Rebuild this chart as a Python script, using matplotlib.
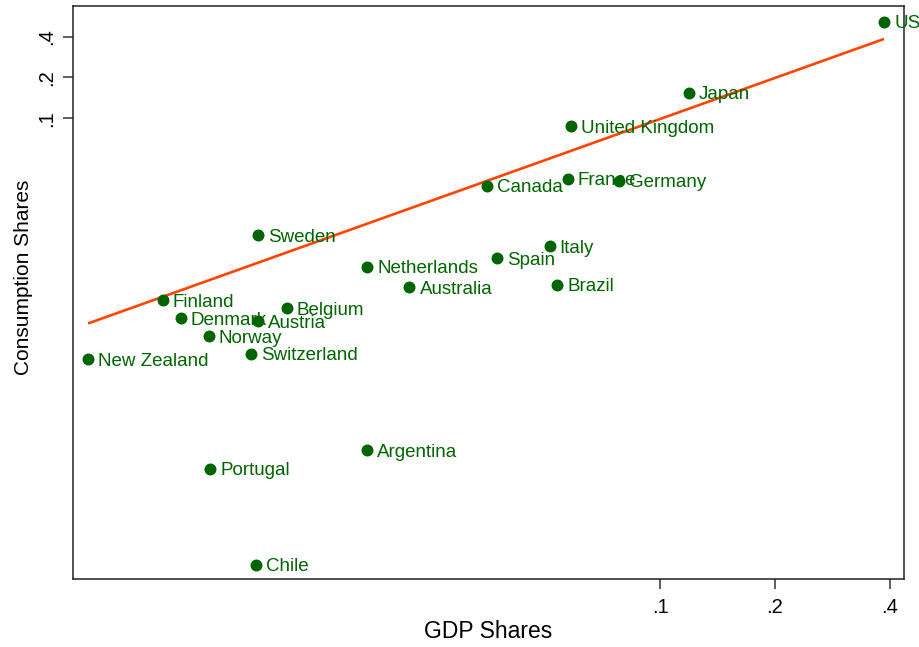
import matplotlib
matplotlib.use("Agg")
import matplotlib.pyplot as plt
import numpy as np
from matplotlib.ticker import NullLocator, FixedLocator, FixedFormatter

plt.rcParams['font.family'] = ['Liberation Sans', 'DejaVu Sans']

countries = ["US", "Japan", "United Kingdom", "France", "Germany", "Canada",
             "Italy", "Spain", "Brazil", "Netherlands", "Australia", "Sweden",
             "Finland", "Denmark", "Austria", "Belgium", "Norway", "Switzerland",
             "New Zealand", "Argentina", "Portugal", "Chile"]
gdp_shares = [0.3865, 0.1187, 0.0582, 0.0571, 0.0778, 0.0350,
              0.0512, 0.0372, 0.0537, 0.01702, 0.02194, 0.00878,
              0.00494, 0.00551, 0.00878, 0.01046, 0.00653, 0.00841,
              0.003147, 0.01696, 0.00659, 0.00867]
consumption_shares = [0.5132, 0.1545, 0.0877, 0.0359, 0.0347, 0.0318,
                      0.01144, 0.00933, 0.00593, 0.00805, 0.00567, 0.01378,
                      0.00457, 0.00335, 0.00320, 0.00397, 0.00248, 0.001837,
                      0.00167, 0.000358, 0.00026, 0.0000510]

# fitted line in log10 space: log10(C) = intercept + slope * log10(GDP)
fit_slope = 1.004
fit_intercept = -0.0006

tick_values = [0.1, 0.2, 0.4]
tick_labels = [".1", ".2", ".4"]

W, H = 919, 647
fig = plt.figure(figsize=(W / 100, H / 100), dpi=100)
ax = fig.add_axes([73 / W, 1 - 579 / H, (904 - 73) / W, (579 - 6) / H])

ax.set_xscale('log')
ax.set_yscale('log')

green = '#006400'
line_col = '#FF4500'

gx = np.array(gdp_shares)
gy = np.array(consumption_shares)

lx = np.array([gx.min(), gx.max()])
ly = 10 ** (fit_intercept + fit_slope * np.log10(lx))
ax.plot(lx, ly, color=line_col, lw=1.9, zorder=2, solid_capstyle='butt')

ax.plot(gx, gy, 'o', color=green, markersize=8.6, markeredgewidth=0, zorder=3)

for name, x, y in zip(countries, gx, gy):
    ax.annotate(name, (x, y), xytext=(7.3, 0), textcoords='offset points',
                ha='left', va='center_baseline', fontsize=13.5, color=green,
                annotation_clip=False, clip_on=False, zorder=4)

ax.set_xlim(0.002873, 0.4362)
ax.set_ylim(4.01e-5, 0.673)

for axis in (ax.xaxis, ax.yaxis):
    axis.set_major_locator(FixedLocator(tick_values))
    axis.set_major_formatter(FixedFormatter(tick_labels))
    axis.set_minor_locator(NullLocator())

ax.tick_params(axis='both', direction='out', length=7, width=1.1,
               color='#333333', labelsize=14.5, labelcolor='black')
ax.tick_params(axis='x', pad=6.5)
ax.tick_params(axis='y', pad=5.5, labelrotation=90)
for lab in ax.get_yticklabels():
    lab.set_va('center')

for sp in ax.spines.values():
    sp.set_linewidth(1.1)
    sp.set_color('#222222')

fig.text(488.5 / W, 1 - 637.7 / H, "GDP Shares", ha='center', va='baseline',
         fontsize=16.5, color='black')
fig.text(29.5 / W, 1 - 277.5 / H, "Consumption Shares", ha='center', va='baseline',
         rotation=90, rotation_mode='anchor', fontsize=15, color='black')

fig.savefig("out.png", dpi=100)
